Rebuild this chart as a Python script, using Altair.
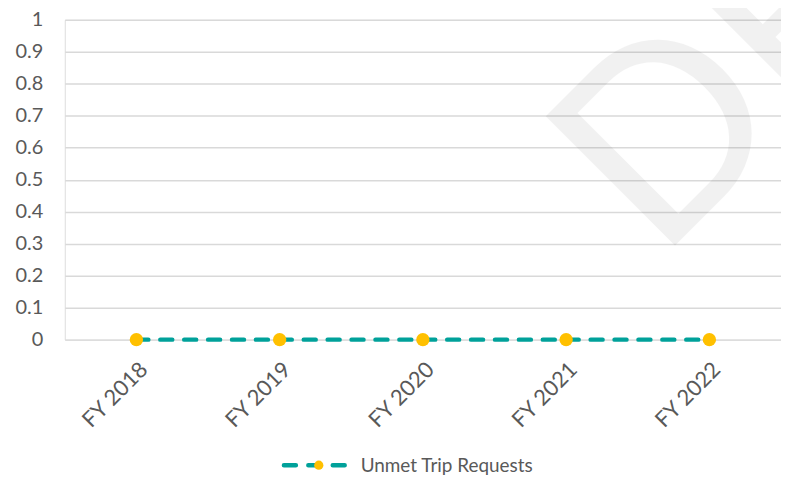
import altair as alt
import pandas as pd

years = ["FY 2018", "FY 2019", "FY 2020", "FY 2021", "FY 2022"]
unmet = [0, 0, 0, 0, 0]
series_name = "Unmet Trip Requests"
y_ticks = [0, 0.1, 0.2, 0.3, 0.4, 0.5, 0.6, 0.7, 0.8, 0.9, 1]

TEAL = "#00a19a"
GOLD = "#ffc000"
TXT = "#595959"
FONT = "Lato"

df = pd.DataFrame({"year": years, "value": unmet})

x_enc = alt.X("year:N", sort=years, title=None,
              axis=alt.Axis(labelAngle=-45, domain=False, ticks=False,
                            labelFontSize=22, labelColor=TXT, labelPadding=19,
                            labelFont=FONT))
y_enc = alt.Y("value:Q", title=None,
              scale=alt.Scale(domain=[0, 1], nice=False),
              axis=alt.Axis(values=y_ticks, domain=False, ticks=False,
                            labelFontSize=20, labelColor=TXT, labelPadding=22,
                            labelFont=FONT, gridColor="#d9d9d9", gridWidth=1.5,
                            labelExpr="datum.value == 0 ? '0' : format(datum.value, '.1~f')"))

watermark = alt.Chart(pd.DataFrame({"t": ["DRAFT"]})).mark_text(
    font=FONT, fontSize=256, angle=315, align="left", baseline="alphabetic",
    color="#000000", opacity=0.05
).encode(text="t:N", x=alt.value(596), y=alt.value(243))

line = alt.Chart(df).mark_line(
    color=TEAL, strokeWidth=4.5, strokeDash=[12, 12], strokeCap="round"
).encode(x=x_enc, y=y_enc)

pts = alt.Chart(df).mark_circle(color=GOLD, opacity=1, size=180).encode(x=x_enc, y=y_enc)

leg_df = pd.DataFrame({"name": [series_name]})
leg_line = alt.Chart(leg_df).mark_rule(
    color=TEAL, strokeWidth=4.5, strokeDash=[12, 12.5], strokeCap="round"
).encode(x=alt.value(220), x2=alt.value(283), y=alt.value(447))
leg_pt = alt.Chart(leg_df).mark_circle(color=GOLD, opacity=1, size=85).encode(
    x=alt.value(255), y=alt.value(447))
leg_txt = alt.Chart(leg_df).mark_text(
    font=FONT, fontSize=19, align="left", baseline="middle", color=TXT
).encode(text="name:N", x=alt.value(297), y=alt.value(448))

chart = alt.layer(watermark, line, pts, leg_line, leg_pt, leg_txt).properties(
    width=719, height=321,
    padding={"left": 57, "top": 11, "right": 0, "bottom": 138},
    autosize=alt.AutoSizeParams(type="none"),
).configure_view(stroke=None).configure(background="white")

chart.save("out.html", embed_options={"renderer": "svg", "actions": False})
